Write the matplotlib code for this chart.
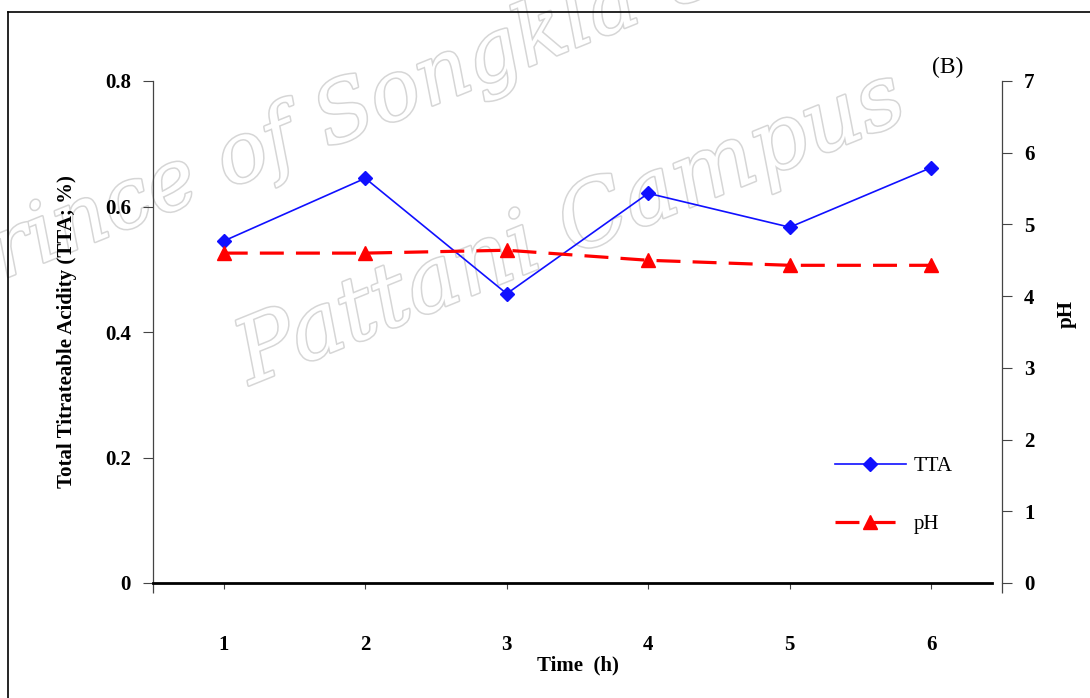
import matplotlib
matplotlib.use('Agg')
import matplotlib.pyplot as plt
import matplotlib.patheffects as pe
from matplotlib.lines import Line2D

plt.rcParams['font.family'] = ['Liberation Serif', 'DejaVu Serif']

time_h = [1, 2, 3, 4, 5, 6]
tta = [0.545, 0.645, 0.461, 0.621, 0.567, 0.662]
ph = [4.60, 4.60, 4.64, 4.50, 4.43, 4.43]

fig = plt.figure(figsize=(10.9, 6.98), dpi=100)
ax = fig.add_axes([153 / 1090, 1 - 583 / 698, 849 / 1090, 502 / 698])
ax2 = ax.twinx()
ax.patch.set_alpha(0)

# watermark behind the chart
wm = dict(color='white', style='italic', family='DejaVu Serif',
          rotation_mode='anchor', ha='left', va='baseline', zorder=-1,
          path_effects=[pe.withStroke(linewidth=2.2, foreground='#d6d6d6')])
fig.text(-0.045, 1 - 300 / 698, 'Prince of Songkla University', fontsize=60,
         rotation=22, **wm)
fig.text(250 / 1090, 1 - 385 / 698, 'Pattani Campus', fontsize=64, rotation=22, **wm)

# figure frame (left and top edges)
fig.add_artist(Line2D([8 / 1090, 8 / 1090], [0, 1 - 12 / 698], color='black', lw=1.2))
fig.add_artist(Line2D([8 / 1090, 1], [1 - 12 / 698, 1 - 12 / 698], color='black', lw=1.2))

l1, = ax.plot(time_h, tta, color='#1010ff', lw=1.2, marker='D', ms=7.5, label='TTA', zorder=3)
l2, = ax2.plot(time_h, ph, color='#ff0000', lw=2.3, marker='^', ms=10.5, label='pH',
               dashes=(7.5, 3.8))

ax.set_xlim(0.5, 6.5)
ax.set_ylim(0, 0.8)
ax2.set_ylim(0, 7)
ax.set_xticks(time_h)
ax.set_xticks([0.5, 6.5], minor=True)
ax.set_yticks([0, 0.2, 0.4, 0.6, 0.8])
ax.set_yticklabels(['0', '0.2', '0.4', '0.6', '0.8'])
ax2.set_yticks(range(8))

for a in (ax, ax2):
    for s in a.spines.values():
        s.set_visible(False)
ax.spines['left'].set_visible(True)
ax.spines['left'].set_color('#444444')
ax.spines['left'].set_linewidth(0.9)
ax.spines['bottom'].set_visible(True)
ax.spines['bottom'].set_linewidth(2.0)
ax.spines['bottom'].set_bounds(0.5, 6.43)
ax2.spines['right'].set_visible(True)
ax2.spines['right'].set_color('#444444')
ax2.spines['right'].set_linewidth(0.9)

bold = dict(fontsize=15, fontweight='bold')
ax.tick_params(axis='x', direction='out', length=4.5, width=0.8, color='#444444', pad=33)
ax.tick_params(axis='x', which='minor', direction='out', length=7, width=0.9, color='#444444')
ax.tick_params(axis='y', direction='out', length=7, width=0.8, color='#444444', pad=9)
ax2.tick_params(axis='y', direction='out', length=7, width=0.8, color='#444444', pad=9)
for lab in ax.get_xticklabels() + ax.get_yticklabels() + ax2.get_yticklabels():
    lab.set_fontsize(15)
    lab.set_fontweight('bold')

ax.set_xlabel('Time  (h)', labelpad=0, **bold)
ax.set_ylabel('Total Titrateable Acidity (TTA; %)', labelpad=20, **bold)
ax2.set_ylabel('pH', **bold)
ax2.yaxis.set_label_coords(1.064, 0.535)

fig.text(0.869, 0.903, '(B)', fontsize=17, ha='center', va='center')

fig.legend(handles=[l1, l2], loc='upper left', bbox_to_anchor=(816 / 1090, 1 - 438 / 698),
           frameon=False, fontsize=15, handlelength=3.4, labelspacing=1.85,
           handletextpad=0.4)

fig.savefig('out.png', dpi=100)
